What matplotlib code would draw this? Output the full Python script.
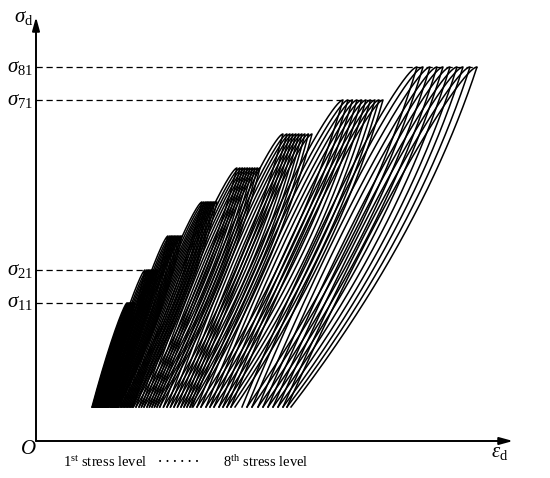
import matplotlib.pyplot as plt
import numpy as np

plt.rcParams['font.family'] = ['Liberation Serif', 'DejaVu Serif']
plt.rcParams['mathtext.fontset'] = 'custom'
plt.rcParams['mathtext.rm'] = 'Liberation Serif'
plt.rcParams['mathtext.it'] = 'Liberation Serif:italic'

# Schematic values (arbitrary units, origin at O)
base_stress = 34
peak_stress = [138, 171, 205, 239, 273, 307, 341, 374]

# Strain at the start of each loop, per stress level
loop_bases = [
    [56, 56.5, 57, 57.5, 58, 58.5, 59, 59.5, 60.5, 61],
    [62, 63, 64, 65, 66, 67, 68, 69, 70, 71],
    [72, 73, 74.5, 75.5, 76.5, 77.5, 78.5, 79.5, 80.5, 81.5],
    [82, 84, 85.5, 87, 88.5, 90, 91.5, 93, 94.5, 96],
    [97, 100, 103, 105.5, 108, 111, 113.5, 116, 118.5, 121],
    [124, 127.5, 131, 134.5, 138, 141.5, 145, 148, 151, 154],
    [156, 161, 165, 170, 174, 178, 183, 187, 191, 195],
    [206, 211, 216, 222, 227, 232, 237, 242, 247, 251],
]
# Strain at the peak of each loop, per stress level
loop_peaks = [
    [91, 92, 93, 94, 95, 95.5, 96.5, 97, 98, 99],
    [109, 111, 112.5, 114, 115.5, 117, 118, 119.5, 121, 122],
    [132, 134, 135.5, 137, 138.5, 140, 141.5, 143, 144.5, 146],
    [166, 168, 170, 171.5, 173, 174.5, 176, 177.5, 179, 181],
    [201, 204, 206.5, 209, 211.5, 214, 216.5, 219, 221.5, 224],
    [247, 251, 254, 257, 260, 263, 266, 269, 272.5, 276],
    [307, 312, 316.5, 321, 325.5, 330, 334.5, 339, 343, 347],
    [381, 387, 394, 401, 407, 414, 421, 427, 434, 441],
]
stress_labels = {0: r'$\sigma_{11}$', 1: r'$\sigma_{21}$',
                 6: r'$\sigma_{71}$', 7: r'$\sigma_{81}$'}


# One hysteresis loop: loading from b up to peak p, unloading back to e
def loop_xy(b, p, e, top):
    t = np.linspace(0, 1, 200)
    u = 1 - (1 - t) ** 2
    x_load = b + (p - b) * u - 0.2 * (p - b) * u * np.sqrt(1 - u)
    x_unload = e + (p - e) * u + 0.4 * (p - e) * u * (1 - u)
    y = base_stress + (top - base_stress) * u
    return np.concatenate([x_load, x_unload[::-1]]), np.concatenate([y, y[::-1]])


fig = plt.figure(figsize=(5.5, 4.78), dpi=100)
ax = fig.add_axes([0, 0, 1, 1])
ax.set_xlim(-36, 514)
ax.set_ylim(-37, 441)
ax.axis('off')

for lvl in range(len(peak_stress)):
    bases = loop_bases[lvl]
    peaks = loop_peaks[lvl]
    ends = bases[1:] + [bases[-1] + (bases[-1] - bases[-2])]
    for b, p, e in zip(bases, peaks, ends):
        x, y = loop_xy(b, p, e, peak_stress[lvl])
        ax.plot(x, y, color='k', lw=1.1, zorder=3)
    if lvl in stress_labels:
        ax.plot([0, max(peaks)], [peak_stress[lvl]] * 2, color='k', lw=0.9,
                ls=(0, (5, 3)), zorder=2)
        ax.text(-3, peak_stress[lvl], stress_labels[lvl], ha='right',
                va='center', fontsize=15)

# Axes with arrow heads
arrow = dict(arrowstyle='-|>,head_length=0.8,head_width=0.22', color='k',
             lw=1.4, mutation_scale=10, shrinkA=0, shrinkB=0)
ax.annotate('', xy=(0, 424), xytext=(0, 0), arrowprops=arrow)
ax.annotate('', xy=(477, 0), xytext=(0, 0), arrowprops=arrow)

ax.text(-3, 424, r'$\sigma_{\mathrm{d}}$', ha='right', va='center', fontsize=15)
ax.text(-8, -9, r'$O$', ha='center', va='center', fontsize=15)
ax.text(464, -11, r'$\varepsilon_{\mathrm{d}}$', ha='center', va='center',
        fontsize=15)

ax.text(27, -21, r'1$^{\mathrm{st}}$ stress level', ha='left', va='center',
        fontsize=10.5)
ax.text(143, -21, '· · · · · ·', ha='center', va='center', fontsize=9,
        fontweight='bold')
ax.text(187, -21, r'8$^{\mathrm{th}}$ stress level', ha='left', va='center',
        fontsize=10.5)

fig.savefig('out.png', dpi=100)
